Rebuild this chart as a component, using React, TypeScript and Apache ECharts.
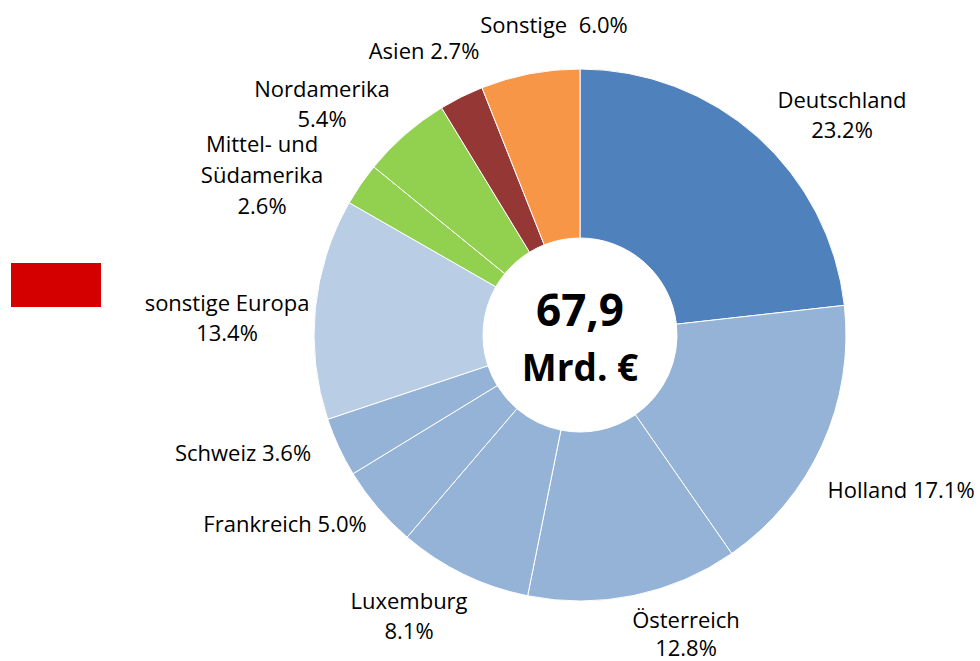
import React, { useEffect, useRef } from "react";
import * as echarts from "echarts";

const categories = [
  "Deutschland",
  "Holland",
  "Österreich",
  "Luxemburg",
  "Frankreich",
  "Schweiz",
  "sonstige Europa",
  "Mittel- und Südamerika",
  "Nordamerika",
  "Asien",
  "Sonstige",
];
const shares = [23.2, 17.1, 12.8, 8.1, 5.0, 3.6, 13.4, 2.6, 5.4, 2.7, 6.0];
const sliceColors = [
  "#4F81BD",
  "#95B3D7",
  "#95B3D7",
  "#95B3D7",
  "#95B3D7",
  "#95B3D7",
  "#B9CDE5",
  "#92D050",
  "#92D050",
  "#953735",
  "#F79646",
];
const nameText = [
  "Deutschland",
  "Holland",
  "Österreich",
  "Luxemburg",
  "Frankreich",
  "Schweiz",
  "sonstige Europa",
  "Mittel- und\nSüdamerika",
  "Nordamerika",
  "Asien",
  "Sonstige",
];
const valueSep = ["\n", " ", "\n", "\n", " ", " ", "\n", "\n", "\n", " ", "  "];
const labelPos: [number, number][] = [
  [842, 114],
  [901, 489],
  [686, 633],
  [409, 615],
  [285, 523],
  [243, 452],
  [227, 317],
  [262, 174],
  [322, 103],
  [424, 50],
  [554, 24],
];
const labelLineHeight = [30, 30, 28, 30, 30, 30, 30, 31, 30, 30, 30];
const totalLabel = ["67,9", "Mrd. €"];

const FONT = "'Open Sans', sans-serif";

export default function App() {
  const ref = useRef<HTMLDivElement>(null);
  useEffect(() => {
    document.body.style.margin = "0";
    const chart = echarts.init(ref.current!, undefined, { renderer: "svg" });
    chart.setOption({
      animation: false,
      backgroundColor: "#fff",
      graphic: [
        {
          type: "rect",
          shape: { x: 11, y: 263, width: 90, height: 44 },
          style: { fill: "#D40000" },
        },
        {
          type: "text",
          x: 580,
          y: 309,
          style: {
            text: totalLabel[0],
            fontFamily: FONT,
            fontWeight: "bold",
            fontSize: 44,
            fill: "#000",
            textAlign: "center",
            textVerticalAlign: "middle",
          },
          z: 100,
        },
        {
          type: "text",
          x: 580,
          y: 366,
          style: {
            text: totalLabel[1],
            fontFamily: FONT,
            fontWeight: "bold",
            fontSize: 37,
            fill: "#000",
            textAlign: "center",
            textVerticalAlign: "middle",
          },
          z: 100,
        },
      ],
      series: [
        {
          type: "pie",
          center: [580, 335],
          radius: [97, 266],
          startAngle: 90,
          clockwise: true,
          avoidLabelOverlap: false,
          itemStyle: { borderColor: "#fff", borderWidth: 1 },
          label: {
            show: true,
            position: "outside",
            fontFamily: FONT,
            fontSize: 22,
            lineHeight: 30,
            color: "#000",
            align: "center",
            formatter: (p: any) =>
              nameText[p.dataIndex] + valueSep[p.dataIndex] + p.value.toFixed(1) + "%",
          },
          labelLine: { show: false },
          labelLayout: (p: any) => ({
            x: labelPos[p.dataIndex][0],
            y: labelPos[p.dataIndex][1],
            align: "center",
            verticalAlign: "middle",
          }),
          emphasis: { disabled: true },
          data: categories.map((c, i) => ({
            name: c,
            value: shares[i],
            itemStyle: { color: sliceColors[i] },
            label: { lineHeight: labelLineHeight[i] },
          })),
        },
      ],
    });
    return () => chart.dispose();
  }, []);
  return <div ref={ref} style={{ width: 980, height: 661 }} />;
}
